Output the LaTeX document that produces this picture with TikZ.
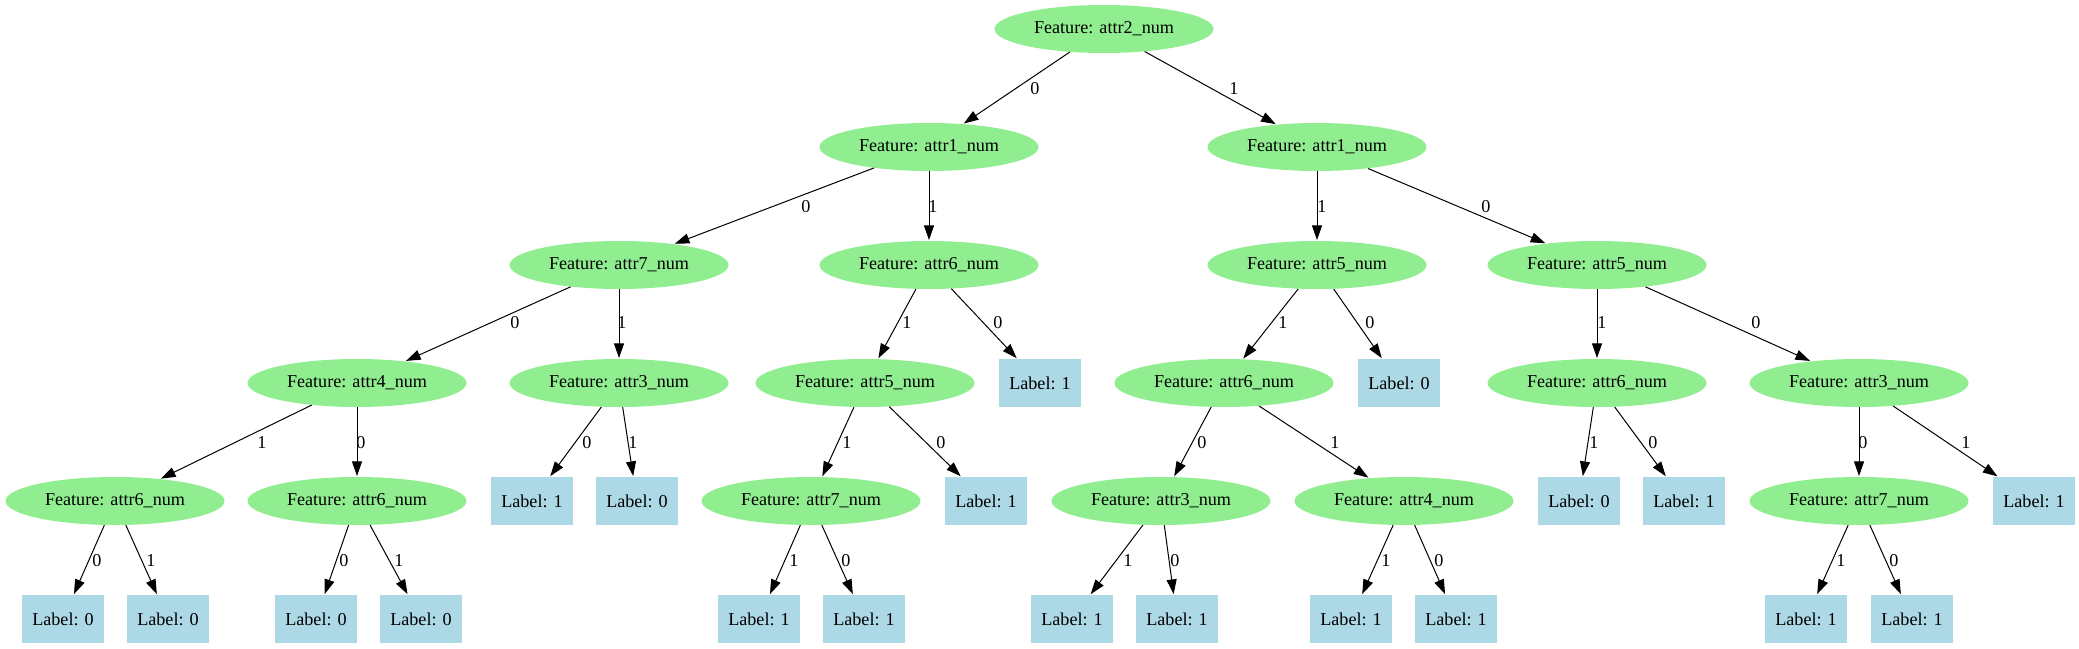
\documentclass[tikz,border=0pt]{standalone}
\usepackage{fontspec}
\setmainfont{Liberation Serif}
\usetikzlibrary{shapes.geometric,arrows.meta}
\definecolor{featgreen}{HTML}{90EE90}
\definecolor{leafblue}{HTML}{ADD8E6}
\tikzset{
  feat/.style={ellipse, fill=featgreen, draw=none, minimum width=164.25pt, minimum height=36pt, inner sep=0pt, font=\fontsize{13.6}{16}\selectfont},
  leaf/.style={rectangle, fill=leafblue, draw=none, minimum width=61.5pt, minimum height=36pt, inner sep=0pt, font=\fontsize{13.6}{16}\selectfont},
  edge/.style={draw=black, line width=0.75pt, -{Triangle[length=11pt,width=7.5pt]}, shorten >=0.5pt},
  elbl/.style={inner sep=0pt, font=\fontsize{13.6}{16}\selectfont}
}
\begin{document}
\begin{tikzpicture}[x=0.75pt,y=-0.75pt]
\useasboundingbox (0,0) rectangle (2079,649);
% level 0
\node[feat] (r) at (1104,29) {Feature: attr2\_num};
% level 1
\node[feat] (a) at (929,147) {Feature: attr1\_num};
\node[feat] (b) at (1317,147) {Feature: attr1\_num};
% level 2
\node[feat] (a0) at (619,265) {Feature: attr7\_num};
\node[feat] (a1) at (929,265) {Feature: attr6\_num};
\node[feat] (b1) at (1317,265) {Feature: attr5\_num};
\node[feat] (b0) at (1597,265) {Feature: attr5\_num};
% level 3
\node[feat] (a00) at (357,383) {Feature: attr4\_num};
\node[feat] (a01) at (619,383) {Feature: attr3\_num};
\node[feat] (a10) at (865,383) {Feature: attr5\_num};
\node[leaf] (a11) at (1040,383) {Label: 1};
\node[feat] (b10) at (1224,383) {Feature: attr6\_num};
\node[leaf] (b11) at (1399,383) {Label: 0};
\node[feat] (b00) at (1597,383) {Feature: attr6\_num};
\node[feat] (b01) at (1859,383) {Feature: attr3\_num};
% level 4
\node[feat] (a001) at (115,501) {Feature: attr6\_num};
\node[feat] (a000) at (357,501) {Feature: attr6\_num};
\node[leaf] (a010) at (532,501) {Label: 1};
\node[leaf] (a011) at (637,501) {Label: 0};
\node[feat] (a101) at (811,501) {Feature: attr7\_num};
\node[leaf] (a100) at (986,501) {Label: 1};
\node[feat] (b100) at (1161,501) {Feature: attr3\_num};
\node[feat] (b101) at (1404,501) {Feature: attr4\_num};
\node[leaf] (b001) at (1579,501) {Label: 0};
\node[leaf] (b000) at (1684,501) {Label: 1};
\node[feat] (b010) at (1859,501) {Feature: attr7\_num};
\node[leaf] (b011) at (2034,501) {Label: 1};
% level 5
\node[leaf] (a0010) at (63,619) {Label: 0};
\node[leaf] (a0011) at (168,619) {Label: 0};
\node[leaf] (a0000) at (316,619) {Label: 0};
\node[leaf] (a0001) at (421,619) {Label: 0};
\node[leaf] (a1011) at (759,619) {Label: 1};
\node[leaf] (a1010) at (864,619) {Label: 1};
\node[leaf] (b1001) at (1072,619) {Label: 1};
\node[leaf] (b1000) at (1177,619) {Label: 1};
\node[leaf] (b1011) at (1351,619) {Label: 1};
\node[leaf] (b1010) at (1456,619) {Label: 1};
\node[leaf] (b0101) at (1806,619) {Label: 1};
\node[leaf] (b0100) at (1912,619) {Label: 1};
% edges
\draw[edge] (r) -- (a);   \node[elbl] (l1) at (1035,89) {0};
\draw[edge] (r) -- (b);   \node[elbl] (l2) at (1234,89) {1};
\draw[edge] (a) -- (a0);  \node[elbl] (l3) at (806,207) {0};
\draw[edge] (a) -- (a1);  \node[elbl] (l4) at (933,207) {1};
\draw[edge] (b) -- (b1);  \node[elbl] (l5) at (1322,207) {1};
\draw[edge] (b) -- (b0);  \node[elbl] (l6) at (1486,207) {0};
\draw[edge] (a0) -- (a00); \node[elbl] (l7) at (515,323) {0};
\draw[edge] (a0) -- (a01); \node[elbl] (l8) at (622,323) {1};
\draw[edge] (a1) -- (a10); \node[elbl] (l9) at (907,323) {1};
\draw[edge] (a1) -- (a11); \node[elbl] (l10) at (998,323) {0};
\draw[edge] (b1) -- (b10); \node[elbl] (l11) at (1283,323) {1};
\draw[edge] (b1) -- (b11); \node[elbl] (l12) at (1370,323) {0};
\draw[edge] (b0) -- (b00); \node[elbl] (l13) at (1602,323) {1};
\draw[edge] (b0) -- (b01); \node[elbl] (l14) at (1756,323) {0};
\draw[edge] (a00) -- (a001); \node[elbl] (l15) at (262,443) {1};
\draw[edge] (a00) -- (a000); \node[elbl] (l16) at (361,443) {0};
\draw[edge] (a01) -- (a010); \node[elbl] (l17) at (587,443) {0};
\draw[edge] (a01) -- (a011); \node[elbl] (l18) at (633,443) {1};
\draw[edge] (a10) -- (a101); \node[elbl] (l19) at (847,443) {1};
\draw[edge] (a10) -- (a100); \node[elbl] (l20) at (941,443) {0};
\draw[edge] (b10) -- (b100); \node[elbl] (l21) at (1202,443) {0};
\draw[edge] (b10) -- (b101); \node[elbl] (l22) at (1335,443) {1};
\draw[edge] (b00) -- (b001); \node[elbl] (l23) at (1594,443) {1};
\draw[edge] (b00) -- (b000); \node[elbl] (l24) at (1653,443) {0};
\draw[edge] (b01) -- (b010); \node[elbl] (l25) at (1863,443) {0};
\draw[edge] (b01) -- (b011); \node[elbl] (l26) at (1966,443) {1};
\draw[edge] (a001) -- (a0010); \node[elbl] (l27) at (97,561) {0};
\draw[edge] (a001) -- (a0011); \node[elbl] (l28) at (151,561) {1};
\draw[edge] (a000) -- (a0000); \node[elbl] (l29) at (344,561) {0};
\draw[edge] (a000) -- (a0001); \node[elbl] (l30) at (399,561) {1};
\draw[edge] (a101) -- (a1011); \node[elbl] (l31) at (794,561) {1};
\draw[edge] (a101) -- (a1010); \node[elbl] (l32) at (846,561) {0};
\draw[edge] (b100) -- (b1001); \node[elbl] (l33) at (1128,561) {1};
\draw[edge] (b100) -- (b1000); \node[elbl] (l34) at (1175,561) {0};
\draw[edge] (b101) -- (b1011); \node[elbl] (l35) at (1386,561) {1};
\draw[edge] (b101) -- (b1010); \node[elbl] (l36) at (1439,561) {0};
\draw[edge] (b010) -- (b0101); \node[elbl] (l37) at (1841,561) {1};
\draw[edge] (b010) -- (b0100); \node[elbl] (l38) at (1894,561) {0};
\end{tikzpicture}
\end{document}
